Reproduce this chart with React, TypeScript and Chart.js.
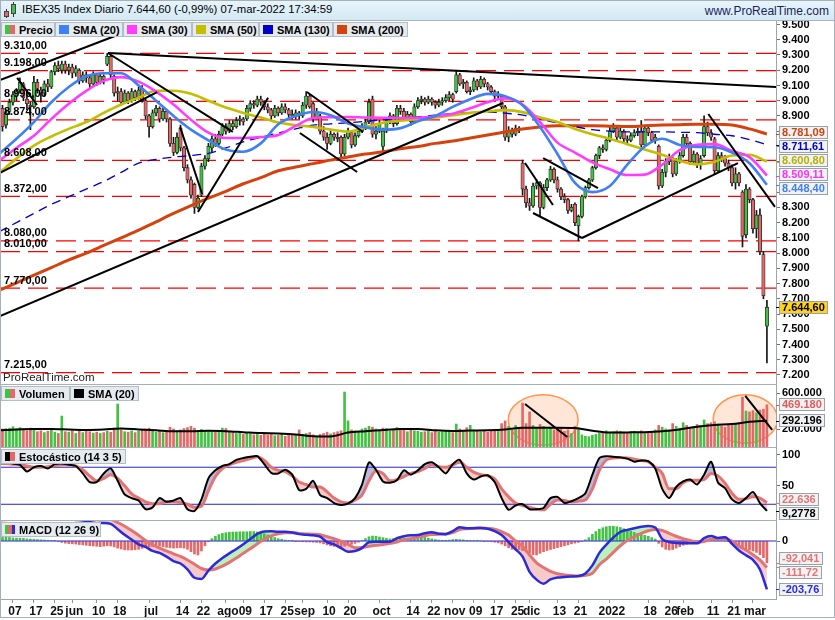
import React, { useEffect, useRef } from 'react';
import { Chart, registerables } from 'chart.js';

Chart.register(...registerables);
const FONT = "'Liberation Sans', Arial, Helvetica, sans-serif";
Chart.defaults.font.family = FONT;

// ---------------- DATA (day index = position in arrays, 0 = 3-may-2021, 220 = 7-mar-2022) ----------------
const OPEN = [8920,8950,8840,8930,8990,9030,9070,9110,9010,8970,
8960,9120,9070,9050,9110,9090,9190,9230,9200,9240,
9200,9220,9180,9200,9130,9170,9150,9110,9170,9120,
9160,9240,9290,9160,9050,9060,8990,9050,9000,9060,
9020,9080,9000,8900,8830,8920,8950,8880,8930,8880,
8720,8660,8820,8690,8560,8480,8450,8300,8380,8570,
8620,8690,8750,8720,8780,8830,8800,8850,8830,8870,
8880,8880,8950,8980,8970,9010,8990,8960,8940,8900,
8950,8920,8960,8940,8910,8900,8920,8900,8970,9030,
8980,8890,8900,8800,8760,8720,8780,8760,8760,8650,
8760,8790,8710,8770,8800,8830,8860,9010,8780,8800,
8700,8800,8870,8900,8850,8950,8930,8890,8910,8860,
8960,9000,9010,8990,9010,8990,8970,8990,9000,9020,
9040,9060,9170,9110,9120,9060,9070,9130,9090,9140,
9110,9090,9060,9030,9030,8960,8760,8800,8780,8820,
8590,8420,8330,8310,8440,8460,8300,8430,8480,8550,
8480,8420,8370,8350,8280,8320,8180,8240,8370,8430,
8480,8560,8640,8690,8680,8740,8800,8820,8760,8800,
8750,8740,8770,8790,8800,8710,8820,8790,8740,8700,
8440,8530,8600,8620,8520,8600,8640,8760,8720,8600,
8650,8580,8640,8830,8790,8750,8540,8640,8620,8590,
8560,8460,8520,8400,8120,8420,8350,8160,8250,7990,
7520];
const HIGH = [8950,8970,8940,9010,9060,9080,9150,9120,9040,8990,
9160,9140,9090,9130,9140,9200,9250,9260,9260,9260,
9240,9240,9230,9210,9190,9190,9160,9190,9180,9180,
9170,9310,9300,9170,9090,9080,9070,9060,9080,9070,
9090,9100,9010,8910,8940,8970,8960,8950,8940,8890,
8760,8790,8840,8700,8580,8500,8460,8380,8590,8640,
8720,8770,8780,8800,8850,8850,8870,8870,8890,8900,
8890,8970,9000,9000,9030,9030,9000,8980,8950,8970,
8960,8980,8980,8950,8940,8940,8930,8990,9060,9040,
8990,8950,8910,8830,8790,8800,8790,8790,8770,8780,
8820,8800,8790,8820,8850,8880,9010,9030,8830,8870,
8820,8890,8920,8910,8970,8970,8950,8930,8920,8980,
9020,9030,9020,9030,9020,9000,9010,9020,9040,9060,
9050,9200,9180,9140,9130,9090,9150,9140,9160,9150,
9120,9100,9070,9060,9040,8970,8830,8820,8840,8830,
8610,8440,8360,8460,8480,8470,8450,8490,8570,8560,
8500,8430,8390,8360,8320,8330,8250,8380,8440,8490,
8570,8650,8700,8710,8750,8830,8850,8830,8820,8810,
8770,8790,8810,8820,8870,8830,8840,8800,8780,8710,
8550,8620,8650,8630,8620,8660,8780,8780,8730,8670,
8660,8640,8900,8860,8810,8760,8660,8660,8640,8610,
8580,8560,8530,8410,8450,8430,8360,8280,8290,8010,
7690];
const LOW = [8860,8800,8820,8910,8970,9000,9050,9000,8940,8810,
8950,9050,8990,9030,9060,9080,9170,9190,9180,9180,
9170,9150,9160,9110,9120,9120,9080,9100,9100,9110,
9110,9230,9150,9030,9000,8970,8980,8980,8990,9000,
9010,8990,8880,8760,8820,8900,8860,8870,8860,8700,
8640,8650,8670,8540,8460,8360,8260,8290,8370,8550,
8600,8660,8700,8710,8770,8780,8790,8810,8820,8840,
8840,8870,8930,8950,8960,8970,8940,8920,8880,8890,
8900,8910,8920,8890,8880,8880,8880,8890,8950,8950,
8860,8880,8780,8740,8680,8710,8740,8730,8620,8640,
8750,8690,8700,8760,8790,8810,8850,8760,8750,8790,
8650,8790,8850,8830,8840,8910,8870,8870,8840,8850,
8950,8980,8970,8980,8970,8950,8960,8970,8990,9000,
8990,9050,9100,9080,9050,9040,9060,9070,9080,9090,
9070,9040,9010,9010,8940,8740,8730,8760,8770,8790,
8380,8300,8280,8300,8420,8240,8290,8410,8470,8460,
8400,8350,8330,8260,8270,8180,8080,8230,8360,8420,
8470,8550,8620,8660,8670,8730,8790,8740,8750,8730,
8720,8730,8760,8770,8690,8700,8770,8730,8720,8420,
8430,8500,8580,8500,8510,8590,8630,8700,8580,8590,
8560,8550,8630,8770,8740,8520,8530,8600,8570,8540,
8440,8420,8440,8040,8100,8330,8130,8100,7990,7700,
7280];
const CLOSE = [8880,8830,8920,8990,9040,9060,9120,9020,8980,8960,
9120,9080,9050,9110,9090,9190,9230,9210,9240,9200,
9220,9180,9210,9130,9170,9150,9110,9170,9120,9160,
9140,9290,9170,9050,9060,8990,9050,9000,9060,9020,
9070,9000,8900,8830,8920,8950,8880,8930,8880,8720,
8660,8760,8690,8560,8480,8380,8300,8360,8570,8620,
8700,8750,8720,8780,8830,8800,8850,8830,8870,8880,
8860,8950,8980,8970,9010,8990,8960,8940,8900,8950,
8920,8960,8940,8910,8900,8920,8900,8970,9030,8960,
8890,8930,8800,8760,8720,8780,8760,8750,8650,8760,
8800,8710,8770,8800,8830,8860,8990,8780,8800,8850,
8800,8870,8900,8850,8950,8930,8890,8910,8860,8960,
9000,9010,8990,9010,8990,8970,8990,9000,9020,9040,
9010,9170,9110,9120,9060,9070,9130,9090,9140,9110,
9090,9060,9030,9040,8960,8760,8800,8780,8820,8810,
8420,8330,8310,8440,8460,8300,8430,8480,8550,8480,
8420,8370,8350,8280,8300,8200,8240,8370,8430,8480,
8560,8640,8690,8680,8740,8800,8820,8760,8800,8750,
8740,8770,8790,8800,8710,8820,8790,8740,8760,8440,
8530,8600,8620,8520,8600,8640,8760,8720,8600,8650,
8580,8620,8830,8790,8760,8540,8640,8620,8590,8560,
8460,8520,8460,8110,8420,8350,8160,8250,8010,7721,
7644.6];

// volume in thousands
const VOLUME = [245,200,205,210,225,200,215,190,180,210,
195,170,180,160,175,195,165,150,344,170,
165,180,150,175,160,185,170,155,165,150,
160,175,165,210,478,190,170,165,180,160,
175,190,200,210,180,165,175,160,185,220,
200,180,190,205,215,230,210,175,195,180,
175,170,165,175,210,205,170,160,150,155,
140,150,145,135,140,130,150,135,140,125,
130,140,120,145,130,135,190,140,150,160,
135,110,140,150,165,145,160,170,180,611,
290,190,180,170,200,210,230,220,200,190,
210,205,180,190,215,200,185,170,195,180,
175,165,170,180,160,175,165,170,185,180,
160,255,200,185,215,240,190,180,170,185,
165,180,175,190,260,290,230,210,240,200,
488,260,390,240,210,250,230,200,220,190,
205,210,175,190,150,230,210,135,120,115,
130,140,155,160,180,165,170,180,175,165,
160,170,175,165,180,160,170,175,190,240,
220,200,190,260,230,210,270,240,220,230,
250,240,300,260,270,280,255,230,220,240,
250,260,255,555,400,390,405,380,410,420,
469.18];

// moving averages read every 5 days
const SMA_DAYS = [0,5,10,15,20,25,30,35,40,45,50,55,60,65,70,75,80,85,90,95,100,105,110,115,120,125,130,135,140,145,150,155,160,165,170,175,180,185,190,195,200,205,210,215,220];
const SMA20 = [8650,8750,8860,8990,9090,9160,9180,9180,9100,9000,8900,8810,8740,8680,8665,8720,8845,8900,8926,8905,8850,8825,8810,8820,8865,8900,8960,9010,9045,9030,8970,8828,8650,8460,8400,8440,8580,8700,8750,8710,8696,8695,8660,8590,8448.40];
const SMA30 = [8605,8690,8770,8880,8980,9065,9130,9155,9125,9060,8975,8875,8790,8755,8755,8762,8775,8835,8887,8892,8893,8890,8888,8887,8888,8898,8915,8950,8990,9015,8975,8860,8725,8660,8595,8550,8512,8515,8580,8675,8710,8715,8670,8630,8509.11];
const SMA50 = [8525,8620,8705,8765,8815,8860,8920,8975,9020,9065,9065,9045,9000,8955,8920,8890,8857,8840,8828,8810,8797,8825,8856,8868,8880,8890,8905,8920,8930,8938,8925,8890,8860,8815,8780,8750,8715,8680,8645,8605,8582,8600,8640,8645,8600.80];
const SMA130 = [8140,8200,8260,8320,8370,8420,8470,8530,8590,8615,8630,8640,8655,8690,8730,8760,8788,8815,8840,8848,8855,8865,8875,8885,8893,8905,8915,8922,8926,8918,8906,8880,8853,8830,8810,8800,8795,8795,8795,8793,8790,8780,8770,8745,8711.61];
const SMA200 = [7755,7805,7855,7905,7955,8000,8050,8100,8150,8205,8260,8312,8360,8405,8455,8495,8540,8565,8587,8610,8630,8650,8665,8685,8700,8720,8735,8755,8775,8795,8815,8828,8835,8835,8835,8833,8830,8835,8840,8843,8845,8845,8840,8815,8781.09];
const VOL_SMA = [185,195,200,200,195,190,195,205,195,185,175,175,180,175,165,155,150,140,120,118,160,175,190,200,200,185,178,182,185,195,215,215,215,210,180,160,162,165,175,195,225,245,255,280,292.196];

// oscillators read every 2 days
const OSC_DAYS = [0,2,4,6,8,10,12,14,16,18,20,22,24,26,28,30,32,34,36,38,40,42,44,46,48,50,52,54,56,58,60,62,64,66,68,70,72,74,76,78,80,82,84,86,88,90,92,94,96,98,100,102,104,106,108,110,112,114,116,118,120,122,124,126,128,130,132,134,136,138,140,142,144,146,148,150,152,154,156,158,160,162,164,166,168,170,172,174,176,178,180,182,184,186,188,190,192,194,196,198,200,202,204,206,208,210,212,214,216,218,220];
const STOCH_K = [88,90,86,84,73,80,82,78,85,86,
84,82,70,56,56,70,78,58,36,30,
26,12,15,30,24,26,30,12,9,28,
62,75,82,85,92,95,97,98,85,71,
70,76,68,43,45,58,35,30,22,19,
21,30,52,88,76,57,55,59,75,68,
75,85,88,80,70,85,92,70,60,65,
67,56,30,11,18,20,12,12,14,30,
32,22,25,30,38,68,95,98,97,96,
94,89,91,90,78,45,30,48,57,60,
52,68,89,55,46,28,22,30,40,22,
9.2778];
const STOCH_D = [86,86,85,84,82,80,80,81,83,84,
84,82,76,66,58,62,68,62,50,37,
30,24,21,21,24,24,23,20,15,17,
42,65,78,84,88,91,94,97,91,80,
75,73,66,56,52,48,48,40,30,24,
22,27,35,58,74,70,58,60,65,70,
73,78,84,81,80,84,88,80,72,68,
66,61,45,32,22,18,15,12,11,20,
27,26,24,25,27,45,75,92,95,96,
95,93,91,89,80,70,45,45,55,59,
59,60,70,66,54,38,28,29,32,30,
22.636];
const MACD = [100,103,106,108,108,106,105,104,103,96,
92,89,86,80,75,76,72,50,26,6,
-14,-25,-42,-50,-66,-85,-95,-120,-155,-160,
-125,-95,-72,-52,-34,-14,8,30,40,41,
39,39,36,29,26,24,18,-5,-14,-30,
-45,-42,-30,-5,-3,-3,-3,12,20,24,
25,33,37,31,29,42,58,54,54,55,
52,42,25,-5,-35,-66,-130,-163,-180,-162,
-154,-152,-150,-148,-137,-103,-50,-15,15,38,
47,54,60,63,57,8,-4,-8,-10,-10,
-10,12,21,13,16,-12,-40,-60,-80,-120,
-203.76];
const SIGNAL = [88,90,92,94,96,98,99,100,101,101,
101,100,99,97,96,95,92,78,62,44,
24,2,-16,-30,-42,-54,-65,-80,-98,-116,
-122,-118,-106,-90,-72,-52,-33,-12,8,22,
30,35,35,32,30,29,27,18,10,-2,
-14,-28,-27,-22,-18,-15,-10,-4,5,10,
16,22,27,29,30,36,48,52,54,55,
53,50,40,25,0,-22,-59,-92,-112,-128,
-138,-143,-146,-148,-145,-136,-100,-76,-48,-20,
2,18,32,43,49,45,32,20,10,2,
-5,-2,7,8,8,0,-22,-38,-58,-80,
-111.72];
// histogram, one value per day
const HIST = [14,15,16,15,13,12,12,11,9,8,
7,6,5,4,3,2,1,-3,-6,-9,
-11,-12,-13,-15,-16,-18,-20,-21,-22,-24,
-22,-20,-21,-25,-30,-34,-37,-38,-38,-37,
-35,-31,-27,-25,-24,-23,-22,-24,-27,-29,
-30,-29,-28,-30,-35,-45,-55,-59,-42,-20,
-3,10,20,27,32,35,37,38,38,39,
39,39,40,40,38,35,31,26,20,15,
10,7,4,2,1,-1,-2,-3,-4,-4,
-5,-6,-8,-12,-16,-20,-23,-25,-24,-22,
-18,-14,-10,-5,2,10,18,21,20,17,
14,11,9,10,12,13,12,11,10,10,
12,14,15,12,9,6,4,3,3,4,
6,7,6,5,3,2,2,1,0,-1,
-2,-3,-5,-8,-13,-20,-28,-35,-38,-36,
-40,-46,-52,-58,-59,-52,-45,-40,-36,-32,
-28,-24,-20,-16,-12,-9,-6,-2,5,14,
28,40,50,56,60,62,62,60,57,52,
46,41,36,32,28,24,20,14,8,-10,
-25,-35,-38,-36,-30,-24,-18,-13,-9,-6,
-4,-2,3,6,7,5,3,2,0,-3,
-8,-14,-20,-28,-34,-38,-42,-48,-58,-70,
-92.041];

const LEVELS = [9310, 9198, 8996, 8874, 8608, 8372, 8080, 8010, 7770, 7215];
// [day1, value1, day2, value2]
const TREND_LINES = [
  [0.3, 7587, 144.4, 8985],
  [0.3, 9136, 34.7, 9438],
  [0.3, 8526, 45.3, 9057],
  [5.2, 9150, 10.9, 8972],
  [31.2, 9313, 67, 8795],
  [31.2, 9313, 222.6, 9090],
  [51.9, 8827, 58.2, 8388],
  [57.0, 8270, 77.1, 9020],
  [88.2, 9057, 104.3, 8795],
  [86.2, 8788, 102.6, 8532],
  [150.7, 8591, 158.7, 8316],
  [153.0, 8263, 167.0, 8099],
  [155.9, 8624, 171.6, 8427],
  [167.0, 8099, 211.7, 8591],
  [203.2, 8913, 222.3, 8303],
];
const VOL_LINES = [
  [150.7, 478, 162.8, 111],
  [213.8, 567, 221.5, 189],
];
// [centre day, centre value, half width (days), half height (thousands)]
const VOL_ELLIPSES = [
  [155.9, 300, 10, 280],
  [213.8, 311, 9.2, 270],
];

const TICK_DAYS = [4,10,16,21,28,34,43,52,58,65,70,76,82,87,94,100,109,118,124,130,136,142,148,152,160,166,175,186,192,196,204,210,216];
const TICK_LABELS = ['07','17','25','jun','10','18','jul','14','22','ago','09','17','25','sep','10','20','oct','14','22','nov','09','17','25','dic','13','21','2022','18','26','feb','11','21','mar'];
const PRICE_TICKS = [7200,7300,7400,7500,7600,7700,7800,7900,8000,8100,8200,8300,8400,8500,8600,8700,8800,8900,9000,9100,9200,9300,9400,9500];
const VOL_TICKS = [200, 600];
const STOCH_TICKS = [50, 100];
const MACD_TICKS = [0];

// ---------------- STYLE ----------------
const X_MIN = 0.29;
const X_MAX = 222.6;
const AXIS_W = 59;
const GREEN = '#42c242';
const RED = '#e46868';
const SALMON = '#e27474';
const BLUE_LINE = '#2424d4';

const grp = (s: string) => s.replace(/\B(?=(\d{3})+(?!\d))/g, '.');
const fmtInt = (v: number) => (v < 0 ? '-' : '') + grp(String(Math.round(Math.abs(v))));
const fmtDec = (v: number, d: number) => {
  const [ip, fp] = Math.abs(v).toFixed(d).split('.');
  return (v < 0 ? '-' : '') + grp(ip) + (fp ? ',' + fp : '');
};

function xScale(show: boolean): any {
  return {
    type: 'linear', min: X_MIN, max: X_MAX, offset: false, display: show, bounds: 'data',
    grid: { display: show, drawOnChartArea: false, drawTicks: true, tickLength: 4, color: '#8c959c', offset: false },
    border: { display: show, color: '#9ba5ad' },
    ticks: {
      autoSkip: false, maxRotation: 0, minRotation: 0, padding: 1, labelOffset: 2, color: '#111',
      font: { size: 12, weight: 'bold', family: FONT },
      callback: (v: number) => { const k = TICK_DAYS.indexOf(v); return k >= 0 ? TICK_LABELS[k] : ''; },
    },
    afterBuildTicks: (s: any) => { s.ticks = TICK_DAYS.map((v) => ({ value: v })); },
    afterFit: (s: any) => { s.height = show ? 18 : 0; s.paddingLeft = 0; s.paddingRight = 0; },
  };
}

function yScale(min: number, max: number, ticks: number[], fmt: (v: number) => string): any {
  return {
    type: 'linear', position: 'right', min, max, bounds: 'data',
    grid: { display: true, drawOnChartArea: false, drawTicks: true, tickLength: 4, color: '#6c747c' },
    border: { display: true, color: '#9ba5ad' },
    ticks: { autoSkip: false, padding: 2, color: '#000', font: { size: 11, weight: 'bold', family: FONT }, callback: (v: number) => fmt(v) },
    afterBuildTicks: (s: any) => { s.ticks = ticks.map((v) => ({ value: v })); },
    afterFit: (s: any) => { s.width = AXIS_W; s.paddingTop = 0; s.paddingBottom = 0; },
  };
}

function baseOptions(x: any, y: any): any {
  return {
    responsive: false, maintainAspectRatio: false, animation: false, events: [],
    layout: { padding: 0 },
    plugins: { legend: { display: false }, tooltip: { enabled: false }, title: { display: false }, filler: { propagate: false, drawTime: 'beforeDatasetsDraw' } },
    scales: { x, y },
    elements: { point: { radius: 0 } },
  };
}

const lineDs = (data: any[], color: string, width: number, extra: any = {}) => ({
  type: 'line', data, borderColor: color, borderWidth: width, pointRadius: 0, fill: false, tension: 0, ...extra,
});
const hLine = (v: number, color: string, width: number, extra: any = {}) =>
  lineDs([{ x: X_MIN, y: v }, { x: X_MAX, y: v }], color, width, extra);

type Box = { value: number; text: string; color: string; bg?: string };
function valueBoxes(items: Box[], boxH: number) {
  return {
    id: 'valueBoxes',
    afterDraw(chart: any) {
      const { ctx, chartArea } = chart;
      const ys = chart.scales.y;
      const pos = items.map((it) => ({ ...it, y0: ys.getPixelForValue(it.value), y: ys.getPixelForValue(it.value) }));
      for (let it = 0; it < 40; it++) {
        pos.sort((a, b) => a.y - b.y);
        for (let k = 1; k < pos.length; k++) {
          const d = pos[k].y - pos[k - 1].y;
          if (d < boxH + 1) { const p = (boxH + 1 - d) / 2; pos[k - 1].y -= p; pos[k].y += p; }
        }
      }
      ctx.save();
      ctx.font = `bold 11px ${FONT}`;
      ctx.textBaseline = 'middle';
      ctx.textAlign = 'left';
      for (const p of pos) {
        const x = chartArea.right + 3;
        const w = Math.ceil(ctx.measureText(p.text).width) + 6;
        ctx.strokeStyle = p.color; ctx.lineWidth = 1;
        ctx.beginPath(); ctx.moveTo(chartArea.right, Math.round(p.y0) + 0.5); ctx.lineTo(x, Math.round(p.y0) + 0.5); ctx.stroke();
        const top = Math.round(p.y - boxH / 2);
        ctx.fillStyle = p.bg || '#f1f2f3';
        ctx.fillRect(x, top, w, boxH);
        ctx.strokeStyle = '#9aa1a8';
        ctx.strokeRect(x + 0.5, top + 0.5, w - 1, boxH - 1);
        ctx.fillStyle = p.color;
        ctx.fillText(p.text, x + 3, top + boxH / 2 + 0.5);
      }
      ctx.restore();
    },
  };
}

const levelLabels = {
  id: 'levelLabels',
  afterDatasetsDraw(chart: any) {
    const { ctx } = chart;
    const ys = chart.scales.y;
    ctx.save();
    ctx.font = `bold 11px ${FONT}`;
    ctx.fillStyle = '#000';
    ctx.textBaseline = 'bottom';
    ctx.textAlign = 'left';
    for (const v of LEVELS) ctx.fillText(fmtDec(v, 2), 4, ys.getPixelForValue(v) - 2);
    ctx.restore();
  },
};

const ellipses = {
  id: 'ellipses',
  beforeDatasetsDraw(chart: any) {
    const { ctx, chartArea } = chart;
    const { x, y } = chart.scales;
    ctx.save();
    ctx.beginPath(); ctx.rect(chartArea.left, chartArea.top, chartArea.width, chartArea.height); ctx.clip();
    for (const [cd, cv, rd, rv] of VOL_ELLIPSES) {
      const cx = x.getPixelForValue(cd), cy = y.getPixelForValue(cv);
      const rx = Math.abs(x.getPixelForValue(cd + rd) - cx), ry = Math.abs(y.getPixelForValue(cv + rv) - cy);
      ctx.beginPath(); ctx.ellipse(cx, cy, rx, ry, 0, 0, Math.PI * 2);
      ctx.fillStyle = 'rgba(255, 200, 165, 0.45)'; ctx.fill();
      ctx.strokeStyle = '#ff9650'; ctx.lineWidth = 1.5; ctx.stroke();
    }
    ctx.restore();
  },
};

// ---------------- CHART CONFIGS ----------------
function priceConfig(): any {
  const days = CLOSE.map((_, i) => i);
  const ds: any[] = [];
  LEVELS.forEach((v) => ds.push(hLine(v, '#ff0000', 1.2, { borderDash: [20, 8], order: 20 })));
  ds.push({ type: 'bar', data: days.map((i) => ({ x: i, y: [LOW[i], HIGH[i]] })), backgroundColor: '#151515', barThickness: 1, grouped: false, order: 19 });
  ds.push({
    type: 'bar', data: days.map((i) => ({ x: i, y: [Math.min(OPEN[i], CLOSE[i]), Math.max(OPEN[i], CLOSE[i]) + 0.5] })),
    backgroundColor: days.map((i) => (CLOSE[i] >= OPEN[i] ? GREEN : RED)), borderColor: '#2a2a2a', borderWidth: 0.8,
    borderSkipped: false, barThickness: 3.4, grouped: false, order: 18,
  });
  const smas: any[] = [
    [SMA200, '#d4420e', 3, undefined, 17],
    [SMA130, '#0000c8', 1.3, [9, 6], 16],
    [SMA50, '#c4bd00', 2.6, undefined, 15],
    [SMA30, '#ff3cff', 2.6, undefined, 14],
    [SMA20, '#3f80f4', 2.6, undefined, 13],
  ];
  smas.forEach(([arr, c, w, dash, order]) =>
    ds.push(lineDs(SMA_DAYS.map((d, k) => ({ x: d, y: arr[k] })), c, w, { borderDash: dash || [], cubicInterpolationMode: 'monotone', order })));
  TREND_LINES.forEach(([d1, v1, d2, v2]) => ds.push(lineDs([{ x: d1, y: v1 }, { x: d2, y: v2 }], '#000', 2, { order: 1 })));
  const last = SMA_DAYS.length - 1;
  const boxes: Box[] = [
    { value: SMA200[last], text: fmtDec(SMA200[last], 2), color: '#d4420e' },
    { value: SMA130[last], text: fmtDec(SMA130[last], 2), color: '#0000c8' },
    { value: SMA50[last], text: fmtDec(SMA50[last], 2), color: '#b8b000' },
    { value: SMA30[last], text: fmtDec(SMA30[last], 2), color: '#ff30ff' },
    { value: SMA20[last], text: fmtDec(SMA20[last], 2), color: '#3f80f4' },
    { value: CLOSE[CLOSE.length - 1], text: fmtDec(CLOSE[CLOSE.length - 1], 2), color: '#000', bg: '#ffd21c' },
  ];
  return {
    type: 'line', data: { datasets: ds },
    options: baseOptions(xScale(false), yScale(7140.9, 9523.1, PRICE_TICKS, fmtInt)),
    plugins: [levelLabels, valueBoxes(boxes, 13)],
  };
}

function volumeConfig(): any {
  const days = VOLUME.map((_, i) => i);
  const ds: any[] = [];
  VOL_LINES.forEach(([d1, v1, d2, v2]) => ds.push(lineDs([{ x: d1, y: v1 }, { x: d2, y: v2 }], '#000', 2, { order: 1 })));
  ds.push(lineDs(SMA_DAYS.map((d, k) => ({ x: d, y: VOL_SMA[k] })), '#000', 2, { cubicInterpolationMode: 'monotone', order: 2 }));
  ds.push({
    type: 'bar', data: days.map((i) => ({ x: i, y: VOLUME[i] })),
    backgroundColor: days.map((i) => (i === 0 ? CLOSE[0] >= OPEN[0] : CLOSE[i] >= CLOSE[i - 1]) ? GREEN : RED),
    barThickness: 2, grouped: false, order: 5,
  });
  const n = VOLUME.length - 1;
  const boxes: Box[] = [
    { value: VOLUME[n], text: fmtInt(VOLUME[n] * 1000), color: '#e05c5c' },
    { value: VOL_SMA[VOL_SMA.length - 1], text: fmtInt(VOL_SMA[VOL_SMA.length - 1] * 1000), color: '#000' },
  ];
  return {
    type: 'line', data: { datasets: ds },
    options: baseOptions(xScale(false), yScale(0, 688.9, VOL_TICKS, (v) => fmtInt(v * 1000))),
    plugins: [ellipses, valueBoxes(boxes, 13)],
  };
}

function stochConfig(): any {
  const ds: any[] = [
    lineDs(OSC_DAYS.map((d, k) => ({ x: d, y: STOCH_K[k] })), '#000', 2,
      { fill: { target: 1, above: 'rgba(140,140,200,0.6)', below: 'rgba(240,150,150,0.5)' }, tension: 0.25, order: 1 }),
    lineDs(OSC_DAYS.map((d, k) => ({ x: d, y: STOCH_D[k] })), SALMON, 3, { cubicInterpolationMode: 'monotone', order: 2 }),
    hLine(80, BLUE_LINE, 1, { order: 5 }),
    hLine(20, BLUE_LINE, 1, { order: 5 }),
  ];
  const n = OSC_DAYS.length - 1;
  const boxes: Box[] = [
    { value: STOCH_D[n], text: '22.636', color: SALMON },
    { value: STOCH_K[n], text: fmtDec(STOCH_K[n], 4), color: '#000' },
  ];
  return {
    type: 'line', data: { datasets: ds },
    options: baseOptions(xScale(false), yScale(-5.5, 111.2, STOCH_TICKS, (v) => String(v))),
    plugins: [valueBoxes(boxes, 13)],
  };
}

function macdConfig(): any {
  const days = HIST.map((_, i) => i);
  const ds: any[] = [
    lineDs(OSC_DAYS.map((d, k) => ({ x: d, y: MACD[k] })), '#2b2bdc', 2.5,
      { fill: { target: 1, above: 'rgba(150,232,150,0.65)', below: 'rgba(240,150,150,0.5)' }, cubicInterpolationMode: 'monotone', order: 1 }),
    lineDs(OSC_DAYS.map((d, k) => ({ x: d, y: SIGNAL[k] })), SALMON, 3, { cubicInterpolationMode: 'monotone', order: 2 }),
    hLine(0, BLUE_LINE, 1, { order: 4 }),
    { type: 'bar', data: days.map((i) => ({ x: i, y: HIST[i] })), backgroundColor: days.map((i) => (HIST[i] >= 0 ? GREEN : RED)), barThickness: 2, grouped: false, order: 6 },
  ];
  const n = OSC_DAYS.length - 1;
  const h = HIST.length - 1;
  const boxes: Box[] = [
    { value: HIST[h], text: fmtDec(HIST[h], 3), color: SALMON },
    { value: SIGNAL[n], text: fmtDec(SIGNAL[n], 2), color: SALMON },
    { value: MACD[n], text: fmtDec(MACD[n], 2), color: '#2b2bdc' },
  ];
  return {
    type: 'line', data: { datasets: ds },
    options: baseOptions(xScale(true), yScale(-244.7, 84.4, MACD_TICKS, (v) => String(v))),
    plugins: [valueBoxes(boxes, 13)],
  };
}

// ---------------- COMPONENTS ----------------
function LegendBox({ x, y, w, colors, text }: any) {
  return (
    <div style={{
      position: 'absolute', left: x, top: y, width: w, height: 15, boxSizing: 'border-box',
      border: '1px solid #b3bdc5', background: '#e5eaee', display: 'flex', alignItems: 'center',
      fontSize: 11, fontWeight: 'bold', color: '#000', whiteSpace: 'nowrap', overflow: 'hidden', zIndex: 3,
    }}>
      <div style={{ display: 'flex', marginLeft: 3, marginRight: 4, width: 10, height: 9, flex: 'none' }}>
        {colors.map((c: string, k: number) => <div key={k} style={{ flex: 1, background: c }} />)}
      </div>
      <span>{text}</span>
    </div>
  );
}

const sep = (top: number) => (
  <div style={{ position: 'absolute', left: 0, top, width: 777, height: 1, background: '#a6b0b8', zIndex: 2 }} />
);

export default function App() {
  const pRef = useRef<HTMLCanvasElement>(null);
  const vRef = useRef<HTMLCanvasElement>(null);
  const sRef = useRef<HTMLCanvasElement>(null);
  const mRef = useRef<HTMLCanvasElement>(null);

  useEffect(() => {
    document.body.style.margin = '0';
    const charts = [
      new Chart(pRef.current as any, priceConfig()),
      new Chart(vRef.current as any, volumeConfig()),
      new Chart(sRef.current as any, stochConfig()),
      new Chart(mRef.current as any, macdConfig()),
    ];
    return () => charts.forEach((c) => c.destroy());
  }, []);

  const cv = (top: number, h: number): any => ({ position: 'absolute', left: 0, top, width: 835, height: h, display: 'block' });

  return (
    <div style={{ position: 'fixed', left: 0, top: 0, width: 835, height: 620, background: '#fff', fontFamily: FONT, overflow: 'hidden' }}>
      <div style={{ position: 'absolute', left: 0, top: 0, width: 835, height: 21, boxSizing: 'border-box', background: 'linear-gradient(#e8f5fb, #d3e9f4)', borderBottom: '1px solid #a8b5bd', zIndex: 3 }}>
        <div style={{ position: 'absolute', left: 6, top: 9, width: 1, height: 9, background: '#333' }} />
        <div style={{ position: 'absolute', left: 4, top: 11, width: 5, height: 6, background: RED, border: '1px solid #444', boxSizing: 'border-box' }} />
        <div style={{ position: 'absolute', left: 13, top: 2, width: 1, height: 15, background: '#333' }} />
        <div style={{ position: 'absolute', left: 11, top: 4, width: 5, height: 10, background: GREEN, border: '1px solid #444', boxSizing: 'border-box' }} />
        <span style={{ position: 'absolute', left: 22, top: 3, fontSize: 11.3, color: '#000', whiteSpace: 'nowrap' }}>IBEX35 Index Diario 7.644,60 (-0,99%) 07-mar-2022 17:34:59</span>
        <span style={{ position: 'absolute', right: 6, top: 4, fontSize: 12, color: '#1c2458', whiteSpace: 'nowrap' }}>www.ProRealTime.com</span>
      </div>

      <canvas ref={pRef} width={835} height={363} style={cv(21, 363)} />
      {sep(384)}
      <canvas ref={vRef} width={835} height={62} style={cv(385, 62)} />
      {sep(447)}
      <canvas ref={sRef} width={835} height={72} style={cv(448, 72)} />
      {sep(520)}
      <canvas ref={mRef} width={835} height={96} style={cv(521, 96)} />

      <LegendBox x={1} y={22} w={54} colors={[GREEN, RED]} text="Precio" />
      <LegendBox x={55} y={22} w={68} colors={['#3f80f4']} text="SMA (20)" />
      <LegendBox x={123} y={22} w={69} colors={['#ff3cff']} text="SMA (30)" />
      <LegendBox x={192} y={22} w={67} colors={['#c4bd00']} text="SMA (50)" />
      <LegendBox x={259} y={22} w={74} colors={['#0000c8']} text="SMA (130)" />
      <LegendBox x={333} y={22} w={75} colors={['#d4420e']} text="SMA (200)" />

      <div style={{ position: 'absolute', left: 3, top: 371, fontSize: 11.5, color: '#222', zIndex: 3 }}>ProRealTime.com</div>

      <LegendBox x={1} y={386} w={69} colors={[GREEN, RED]} text="Volumen" />
      <LegendBox x={70} y={386} w={69} colors={['#000']} text="SMA (20)" />
      <LegendBox x={1} y={449} w={125} colors={['#000', RED]} text="Estocástico (14 3 5)" />
      <LegendBox x={1} y={522} w={100} colors={[GREEN, RED, '#2b2bdc']} text="MACD (12 26 9)" />

      <div style={{ position: 'absolute', left: 0, top: 0, width: 835, height: 618, boxSizing: 'border-box', border: '1px solid #a6b0b8', pointerEvents: 'none', zIndex: 4 }} />
    </div>
  );
}
